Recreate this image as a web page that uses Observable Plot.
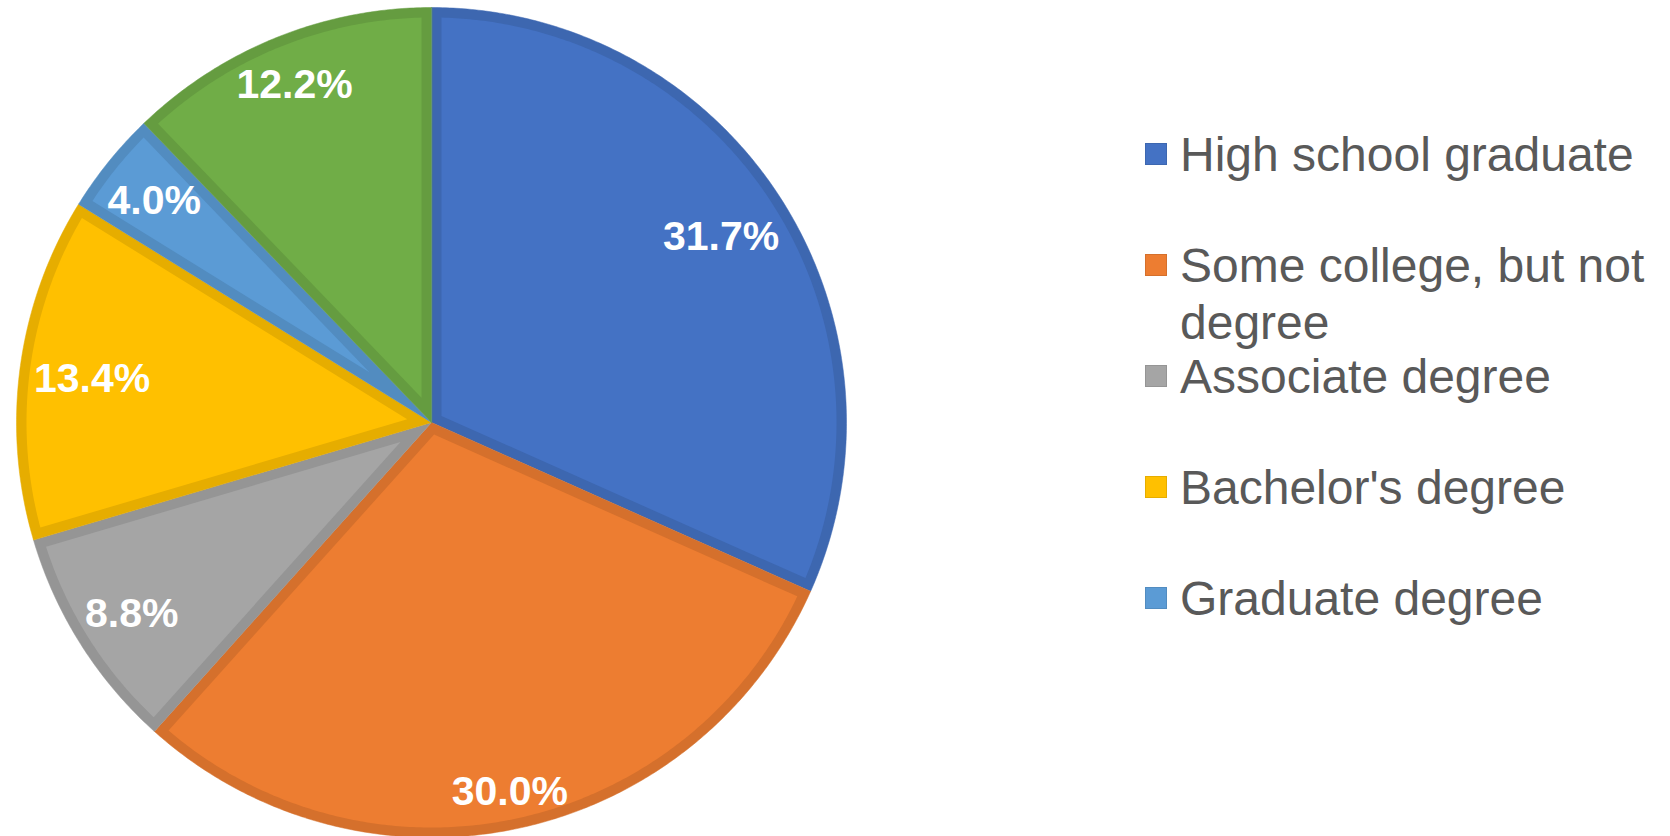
<!DOCTYPE html>
<html>
<head>
<meta charset="utf-8">
<script src="https://cdn.jsdelivr.net/npm/d3@7"></script>
<script src="https://cdn.jsdelivr.net/npm/@observablehq/plot@0.6"></script>
<style>
  html, body { margin: 0; padding: 0; background: #fff; }
  #wrap { position: relative; width: 1670px; height: 836px; overflow: hidden; font-family: "Liberation Sans", Arial, sans-serif; }
  #chart { position: absolute; left: 0; top: 0; }
  .lg-row { position: absolute; left: 1145px; display: flex; align-items: flex-start; }
  .lg-sw { width: 22px; height: 22px; margin-top: 17px; margin-right: 13px; box-sizing: border-box; flex: none; }
  .lg-tx { font-size: 48px; line-height: 57px; color: #595959; width: 478px; }
</style>
</head>
<body>
<div id="wrap"><div id="chart"></div><div id="legend"></div></div>
<script>
const categories = ["High school graduate", "Some college, but not degree", "Associate degree", "Bachelor's degree", "Graduate degree", "Less than high school"];
const shares = [31.7, 30.0, 8.8, 13.4, 4.0, 12.2];
const colors = ["#4472C4", "#ED7D31", "#A5A5A5", "#FFC000", "#5B9BD5", "#70AD47"];
const borderColors = ["#3D67B0", "#D5702C", "#959595", "#E6AD00", "#528CC0", "#659C40"];
const legendCategories = categories.slice(0, 5);

const W = 1670, H = 836;
const cx = 431, cy = 422, R = 415, band = 10, labelMargin = 13;
const fontSize = 41;

const total = d3.sum(shares);
const pt = (a, r) => ({x: cx + r * Math.sin(a), y: cy - r * Math.cos(a)});

const outer = [], inner = [], labelData = [];
const ctx = document.createElement("canvas").getContext("2d");
ctx.font = `bold ${fontSize}px "Liberation Sans", Arial`;
let cum = 0;
shares.forEach((v, i) => {
  const a0 = 2 * Math.PI * cum / total;
  cum += v;
  const a1 = 2 * Math.PI * cum / total;
  const key = categories[i];
  // outer wedge
  const o = [{...pt(0, 0), key}];
  const n = Math.max(4, Math.ceil((a1 - a0) / (Math.PI / 360)));
  for (let k = 0; k <= n; k++) o.push({...pt(a0 + (a1 - a0) * k / n, R), key});
  outer.push(o);
  // inset wedge
  const th = a1 - a0;
  const rho = R - band;
  const da = Math.asin(band / rho);
  const apexD = band / Math.sin(th / 2);
  const mid = (a0 + a1) / 2;
  const p = [{...pt(mid, apexD), key}];
  const b0 = a0 + da, b1 = a1 - da;
  const m = Math.max(4, Math.ceil((b1 - b0) / (Math.PI / 360)));
  for (let k = 0; k <= m; k++) p.push({...pt(b0 + (b1 - b0) * k / m, rho), key});
  inner.push(p);
  // label at inside end
  const text = v.toFixed(1) + "%";
  const w = ctx.measureText(text).width;
  const h = fontSize * 0.72;
  const ux = Math.sin(mid), uy = -Math.cos(mid);
  const ext = (w / 2) * Math.abs(ux) + (h / 2) * Math.abs(uy);
  const d = R - labelMargin - ext;
  labelData.push({...pt(mid, d), text});
});

const marks = [];
outer.forEach((o, i) => marks.push(Plot.line(o, {x: "x", y: "y", fill: borderColors[i], stroke: borderColors[i], strokeWidth: 0.5, curve: "linear-closed"})));
inner.forEach((p, i) => marks.push(Plot.line(p, {x: "x", y: "y", fill: colors[i], stroke: "none", curve: "linear-closed"})));
marks.push(Plot.text(labelData, {x: "x", y: "y", text: "text", fill: "white", fontSize, fontWeight: "bold", fontFamily: "'Liberation Sans', Arial, sans-serif", textAnchor: "middle", dy: 2}));

const chart = Plot.plot({
  width: W, height: H,
  margin: 0,
  x: {type: "linear", domain: [0, W], range: [0, W], axis: null},
  y: {type: "linear", domain: [0, H], range: [0, H], axis: null},
  style: {background: "white", fontFamily: "'Liberation Sans', Arial, sans-serif"},
  marks
});
document.getElementById("chart").appendChild(chart);

const legend = document.getElementById("legend");
const rowTop0 = 126, rowStep = 111;
legendCategories.forEach((c, i) => {
  const row = document.createElement("div");
  row.className = "lg-row";
  row.style.top = (rowTop0 + i * rowStep) + "px";
  const sw = document.createElement("div");
  sw.className = "lg-sw";
  sw.style.background = colors[i];
  sw.style.border = "1px solid " + borderColors[i];
  const tx = document.createElement("div");
  tx.className = "lg-tx";
  tx.textContent = c;
  row.appendChild(sw); row.appendChild(tx);
  legend.appendChild(row);
});
</script>
</body>
</html>
